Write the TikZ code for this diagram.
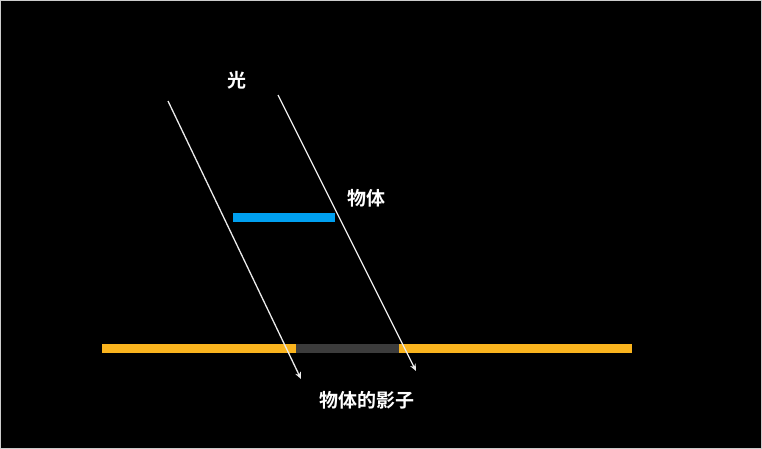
\documentclass[tikz,border=0pt]{standalone}
\usepackage{fontspec}
\usetikzlibrary{arrows.meta}
\newfontfamily\cjk{Noto Sans CJK SC Bold}
\begin{document}
\begin{tikzpicture}[x=1pt,y=-1pt,
  lbl/.style={text=white,font=\cjk\fontsize{19}{22}\selectfont,inner sep=0pt},
  ray/.style={draw=white!92!black,line width=1.3pt,-{Stealth[length=7pt,width=6pt]}},
  bar/.style={line width=9pt}]
\fill[black] (0,0) rectangle (762,449);
\draw[gray!40,line width=0.8pt] (0.5,0.5) rectangle (761.5,448.5);
\coordinate (r1s) at (168,101); \coordinate (r1e) at (301,379);
\coordinate (r2s) at (278,95);  \coordinate (r2e) at (416,371);
\coordinate (o1) at (233,217); \coordinate (o2) at (335,217);
\coordinate (g1) at (102,348); \coordinate (g2) at (632,348);
\coordinate (s1) at (296,348); \coordinate (s2) at (399,348);
\draw[bar,draw={rgb,255:red,0;green,160;blue,240}] (o1) -- (o2);
\draw[bar,draw={rgb,255:red,250;green,180;blue,30}] (g1) -- (g2);
\draw[bar,draw={rgb,255:red,60;green,60;blue,60}] (s1) -- (s2);
\draw[ray] (r1s) -- (r1e);
\draw[ray] (r2s) -- (r2e);
\node[lbl] (light) at (237,80) {光};
\node[lbl] (obj) at (366,198) {物体};
\node[lbl] (shadow) at (367,400) {物体的影子};
\end{tikzpicture}
\end{document}
